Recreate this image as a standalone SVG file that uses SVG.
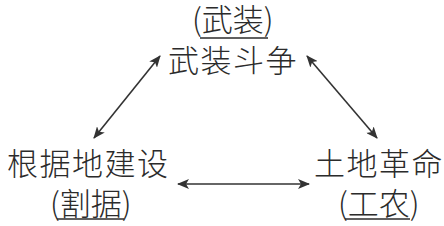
<svg xmlns="http://www.w3.org/2000/svg" width="444" height="226" viewBox="0 0 444 226">
<style>
text{font-family:"Noto Sans CJK SC","Noto Sans CJK JP",sans-serif;font-size:31px;font-weight:300;fill:#2b2b2b}
.m{letter-spacing:1.5px}
.u{stroke:#2b2b2b;stroke-width:1.6}
.c{stroke:#333;stroke-width:1.6;fill:none;marker-start:url(#a);marker-end:url(#a)}
</style>
<defs>
<marker id="a" viewBox="0 0 12 10" refX="11" refY="5" markerWidth="12" markerHeight="10" markerUnits="userSpaceOnUse" orient="auto-start-reverse">
<path d="M0,0 L12,5 L0,10 L3,5 Z" fill="#333"/>
</marker>
</defs>
<rect width="444" height="226" fill="#fff"/>
<g id="connectors">
<line class="c" x1="94" y1="138" x2="160" y2="56"/>
<line class="c" x1="307" y1="56" x2="377" y2="138"/>
<line class="c" x1="178" y1="184" x2="309" y2="184"/>
</g>
<g id="node-top">
<text x="192" y="31">(武装)</text>
<line class="u" x1="200" y1="38" x2="268" y2="38"/>
<text class="m" x="168" y="72">武装斗争</text>
</g>
<g id="node-left">
<text class="m" x="7" y="175">根据地建设</text>
<text x="50" y="215">(割据)</text>
<line class="u" x1="57" y1="219" x2="124" y2="219"/>
</g>
<g id="node-right">
<text class="m" x="314" y="175">土地革命</text>
<text x="338" y="215">(工农)</text>
<line class="u" x1="345" y1="219" x2="410" y2="219"/>
</g>
</svg>
